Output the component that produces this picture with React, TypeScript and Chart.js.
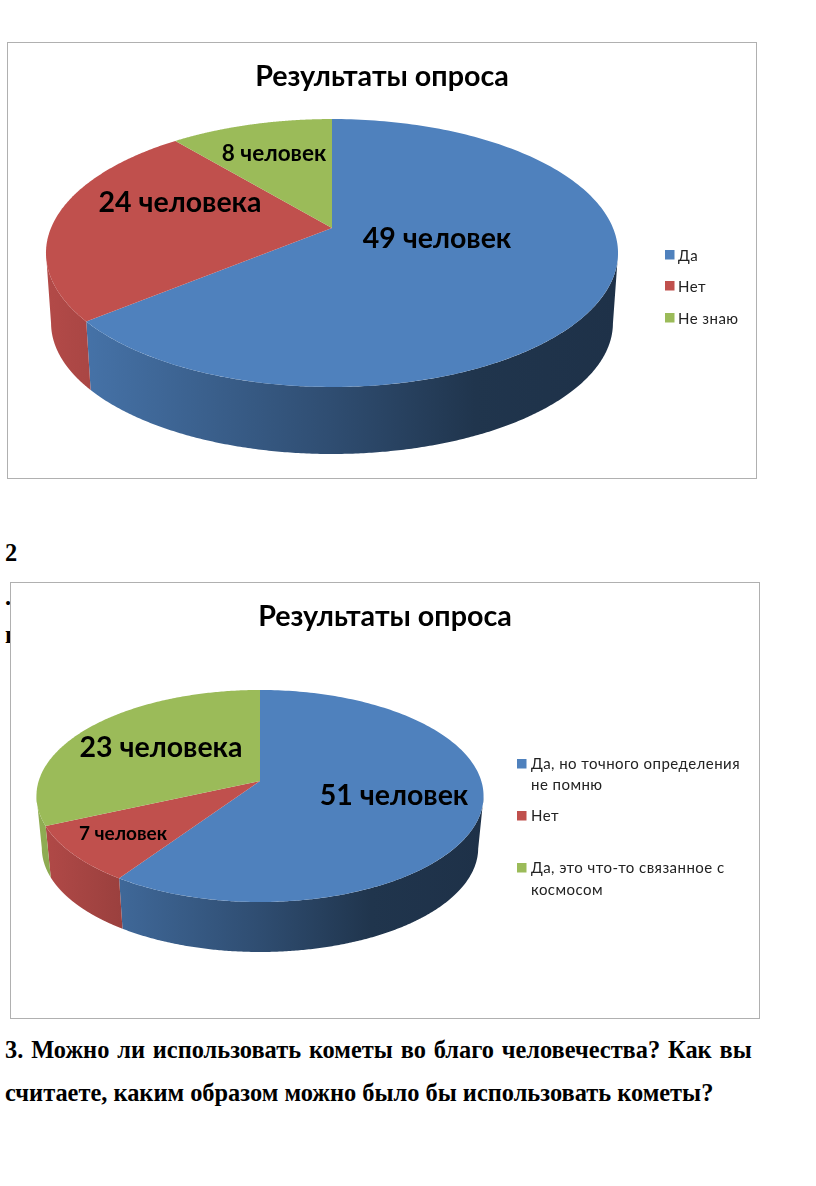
import React, { useEffect, useRef } from "react";
import { Chart, registerables } from "chart.js";

Chart.register(...registerables);

const FONT = "Lato, 'Open Sans', sans-serif";
const SERIF = "'Liberation Serif', serif";

const colors = ["#4f81bd", "#c0504d", "#9bbb59"];

const shares1 = [64, 25, 11];
const printed1 = ["49 человек", "24 человека", "8 человек"];
const legend1 = ["Да", "Нет", "Не знаю"];

const shares2 = [59.5, 8.8, 31.7];
const printed2 = ["51 человек", "7 человек", "23 человека"];
const legend2 = ["Да, но точного определения не помню", "Нет", "Да, это что-то связанное с космосом"];

const title = "Результаты опроса";

type Proj = { cx: number; cy: number; rx: number; ry: number };
type Conf = {
  left: number;
  top: number;
  values: number[];
  names: string[];
  printed: string[];
  labelPos: { x: number; y: number; size: number }[];
  p: number;
  topP: Proj;
  botP: Proj;
  span: [number, number];
  legend: { x: number; lines: string[]; ys: number[]; swatchY: number }[];
  legendW: number;
};

const W = 750;
const H = 437;

const conf1: Conf = {
  left: 7,
  top: 42,
  values: shares1,
  names: legend1,
  printed: printed1,
  labelPos: [
    { x: 437, y: 239, size: 28.5 },
    { x: 180, y: 203, size: 28.5 },
    { x: 274, y: 154, size: 22.5 },
  ],
  p: 0.1866,
  topP: { cx: 332, cy: 228, rx: 281, ry: 129.3 },
  botP: { cx: 332, cy: 298.6, rx: 276, ry: 126.4 },
  span: [46, 618],
  legend: [
    { x: 665, lines: ["Да"], ys: [256], swatchY: 255 },
    { x: 665, lines: ["Нет"], ys: [287], swatchY: 286 },
    { x: 665, lines: ["Не знаю"], ys: [319], swatchY: 318 },
  ],
  legendW: 13,
};

const conf2: Conf = {
  left: 10,
  top: 582,
  values: shares2,
  names: legend2,
  printed: printed2,
  labelPos: [
    { x: 394, y: 796, size: 28.5 },
    { x: 123, y: 834, size: 19 },
    { x: 161, y: 748, size: 28.5 },
  ],
  p: 0.1415,
  topP: { cx: 260, cy: 781, rx: 221.3, ry: 103.9 },
  botP: { cx: 260, cy: 833.3, rx: 216, ry: 101.9 },
  span: [36, 483],
  legend: [
    { x: 517, lines: ["Да, но точного определения", "не помню"], ys: [764, 785], swatchY: 764 },
    { x: 517, lines: ["Нет"], ys: [816], swatchY: 816 },
    { x: 517, lines: ["Да, это что-то связанное с", "космосом"], ys: [868, 890], swatchY: 868 },
  ],
  legendW: 14,
};

function rim(pr: Proj, p: number, a: number) {
  const u = Math.cos(a);
  const v = Math.sin(a);
  const w = 1 - p * v;
  return { x: pr.cx + (pr.rx * u) / w, y: pr.cy + (pr.ry * v) / w, v };
}

function shade(hex: string, f: number) {
  const n = parseInt(hex.slice(1), 16);
  const r = Math.round(((n >> 16) & 255) * f);
  const g = Math.round(((n >> 8) & 255) * f);
  const b = Math.round((n & 255) * f);
  return `rgb(${r},${g},${b})`;
}

const shadeStops = [
  [0, 0.93],
  [0.5, 0.6],
  [0.75, 0.41],
  [1, 0.38],
];

function pie3d(c: Conf) {
  return {
    id: "pie3d",
    beforeDatasetsDraw(chart: any) {
      const ctx = chart.ctx as CanvasRenderingContext2D;
      const arcs = chart.getDatasetMeta(0).data;
      ctx.save();
      ctx.translate(-c.left, -c.top);
      arcs.forEach((arc: any, i: number) => {
        const col = chart.data.datasets[0].backgroundColor[i];
        const g = ctx.createLinearGradient(c.span[0], 0, c.span[1], 0);
        shadeStops.forEach(([t, f]) => g.addColorStop(t, shade(col, f)));
        const n = 500;
        const tops: any[] = [];
        const bots: any[] = [];
        for (let k = 0; k <= n; k++) {
          const a = arc.startAngle + ((arc.endAngle - arc.startAngle) * k) / n;
          const t = rim(c.topP, c.p, a);
          // the visible wall starts where the rim's outline is widest
          if (t.v < c.p) continue;
          tops.push(t);
          bots.push(rim(c.botP, c.p, a));
        }
        if (tops.length < 2) return;
        ctx.beginPath();
        tops.forEach((q, k) => (k ? ctx.lineTo(q.x, q.y) : ctx.moveTo(q.x, q.y)));
        bots.reverse().forEach((q) => ctx.lineTo(q.x, q.y));
        ctx.closePath();
        ctx.fillStyle = g;
        ctx.fill();
      });
      arcs.forEach((arc: any, i: number) => {
        const col = chart.data.datasets[0].backgroundColor[i];
        ctx.beginPath();
        ctx.moveTo(c.topP.cx, c.topP.cy);
        const n = 200;
        for (let k = 0; k <= n; k++) {
          const a = arc.startAngle + ((arc.endAngle - arc.startAngle) * k) / n;
          const q = rim(c.topP, c.p, a);
          ctx.lineTo(q.x, q.y);
        }
        ctx.closePath();
        ctx.fillStyle = col;
        ctx.fill();
      });
      ctx.restore();
      return false;
    },
    afterDraw(chart: any) {
      const ctx = chart.ctx as CanvasRenderingContext2D;
      ctx.save();
      ctx.translate(-c.left, -c.top);
      ctx.textBaseline = "middle";
      ctx.textAlign = "center";
      ctx.fillStyle = "#000";
      c.printed.forEach((s, i) => {
        const l = c.labelPos[i];
        ctx.font = `bold ${l.size}px ${FONT}`;
        ctx.fillText(s, l.x, l.y);
      });
      ctx.textAlign = "left";
      ctx.font = `15px ${FONT}`;
      (ctx as any).letterSpacing = "0.45px";
      c.legend.forEach((item, i) => {
        ctx.fillStyle = colors[i];
        ctx.fillRect(item.x, item.swatchY - 5, 9.5, 9.5);
        ctx.fillStyle = "#222";
        item.lines.forEach((s, k) => ctx.fillText(s, item.x + c.legendW, item.ys[k]));
      });
      ctx.restore();
    },
  };
}

function PieChart({ c }: { c: Conf }) {
  const ref = useRef<HTMLCanvasElement>(null);
  useEffect(() => {
    const chart = new Chart(ref.current!, {
      type: "pie",
      data: {
        labels: c.names,
        datasets: [{ data: c.values, backgroundColor: colors, borderWidth: 0 }],
      },
      options: {
        animation: false,
        responsive: false,
        devicePixelRatio: 1,
        layout: { padding: 0 },
        plugins: {
          legend: { display: false },
          tooltip: { enabled: false },
          title: {
            display: true,
            text: title,
            color: "#000",
            font: { family: FONT, size: 28.7, weight: "bold" },
            padding: { top: 17.5, bottom: 10 },
          },
        },
      },
      plugins: [pie3d(c) as any],
    });
    return () => chart.destroy();
  }, [c]);
  return (
    <canvas
      ref={ref}
      width={W}
      height={H}
      style={{
        position: "absolute",
        left: c.left,
        top: c.top,
        width: W,
        height: H,
        background: "#fff",
        outline: "1.5px solid #b0b0b0",
        outlineOffset: -1,
      }}
    />
  );
}

const textStyle: React.CSSProperties = {
  position: "absolute",
  fontFamily: SERIF,
  fontWeight: "bold",
  fontSize: 24.4,
  lineHeight: "26px",
  whiteSpace: "nowrap",
  color: "#000",
};

export default function App() {
  return (
    <div style={{ position: "absolute", left: 0, top: 0, width: 816, height: 1186, background: "#fff", overflow: "hidden" }}>
      <div style={{ ...textStyle, left: 5, top: 540 }}>2</div>
      <div style={{ ...textStyle, left: 5, top: 584 }}>.</div>
      <div style={{ ...textStyle, left: 5, top: 622 }}>п</div>
      <PieChart c={conf1} />
      <PieChart c={conf2} />
      <div style={{ ...textStyle, left: 5, top: 1037, wordSpacing: 1.75 }}>3. Можно ли использовать кометы во благо человечества? Как вы</div>
      <div style={{ ...textStyle, left: 5, top: 1080 }}>считаете, каким образом можно было бы использовать кометы?</div>
    </div>
  );
}
